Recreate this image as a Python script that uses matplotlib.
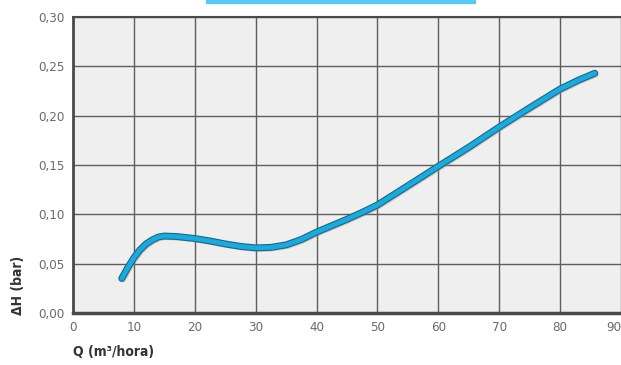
import matplotlib
matplotlib.use('Agg')
import matplotlib.pyplot as plt
import matplotlib.patheffects as pe
from matplotlib.patches import Rectangle

# valores
q = [8, 9, 10, 11, 12, 13, 14, 15, 17, 20, 22.5, 25, 27.5, 30, 32.5, 35,
     37.5, 40, 42.5, 45, 47.5, 50, 55, 60, 65, 70, 75, 80, 83, 85.7]
dh = [0.035, 0.046, 0.056, 0.064, 0.070, 0.074, 0.077, 0.078, 0.0775, 0.0755,
      0.073, 0.070, 0.0675, 0.066, 0.0665, 0.069, 0.0745, 0.082, 0.0885, 0.095,
      0.102, 0.1095, 0.129, 0.1487, 0.168, 0.1885, 0.208, 0.227, 0.236, 0.243]

x_ticks = [0, 10, 20, 30, 40, 50, 60, 70, 80, 90]
y_ticks = [0.00, 0.05, 0.10, 0.15, 0.20, 0.25, 0.30]
y_labels = ['0,00', '0,05', '0,10', '0,15', '0,20', '0,25', '0,30']

plt.rcParams['font.family'] = ['DejaVu Sans']
plt.rcParams['font.stretch'] = 'condensed'

fig = plt.figure(figsize=(6.21, 3.65), dpi=100)
ax = fig.add_axes([73 / 621, 52 / 365, 548 / 621, 296 / 365])
ax.set_facecolor('#efefef')

ax.set_xlim(0, 90)
ax.set_ylim(0, 0.30)
ax.set_xticks(x_ticks)
ax.set_yticks(y_ticks)
ax.set_yticklabels(y_labels)
ax.tick_params(length=0, labelsize=9.5, colors='#6a6a6a', pad=6)
ax.grid(True, color='#5e5e5e', linewidth=1.0)
ax.set_axisbelow(True)

for side in ['left', 'bottom', 'top']:
    ax.spines[side].set_color('#4a4a4a')
ax.spines['left'].set_linewidth(2)
ax.spines['bottom'].set_linewidth(2.5)
ax.spines['top'].set_linewidth(1.5)
ax.spines['right'].set_visible(False)

labels = ax.get_xticklabels()
labels[-1].set_horizontalalignment('right')

ax.plot(q, dh, color='#22a8d8', linewidth=3.4, solid_capstyle='round',
        solid_joinstyle='round',
        path_effects=[pe.SimpleLineShadow(offset=(1.2, -1.2), shadow_color='#9a9a9a', alpha=0.45),
                      pe.Stroke(linewidth=5, foreground='#0f6a8e'),
                      pe.Normal()])

fig.text(18 / 621, 1 - 285 / 365, 'ΔH (bar)', rotation=90, ha='center', va='center',
         fontsize=10, fontweight='bold', color='#333333')
fig.text(73 / 621, 1 - 352 / 365, 'Q (m³/hora)', ha='left', va='center',
         fontsize=10, fontweight='bold', color='#333333')

fig.patches.append(Rectangle((206 / 621, 1 - 3 / 365), 269 / 621, 3 / 365,
                             transform=fig.transFigure, color='#5cc8ee'))

fig.savefig('out.png', dpi=100)
